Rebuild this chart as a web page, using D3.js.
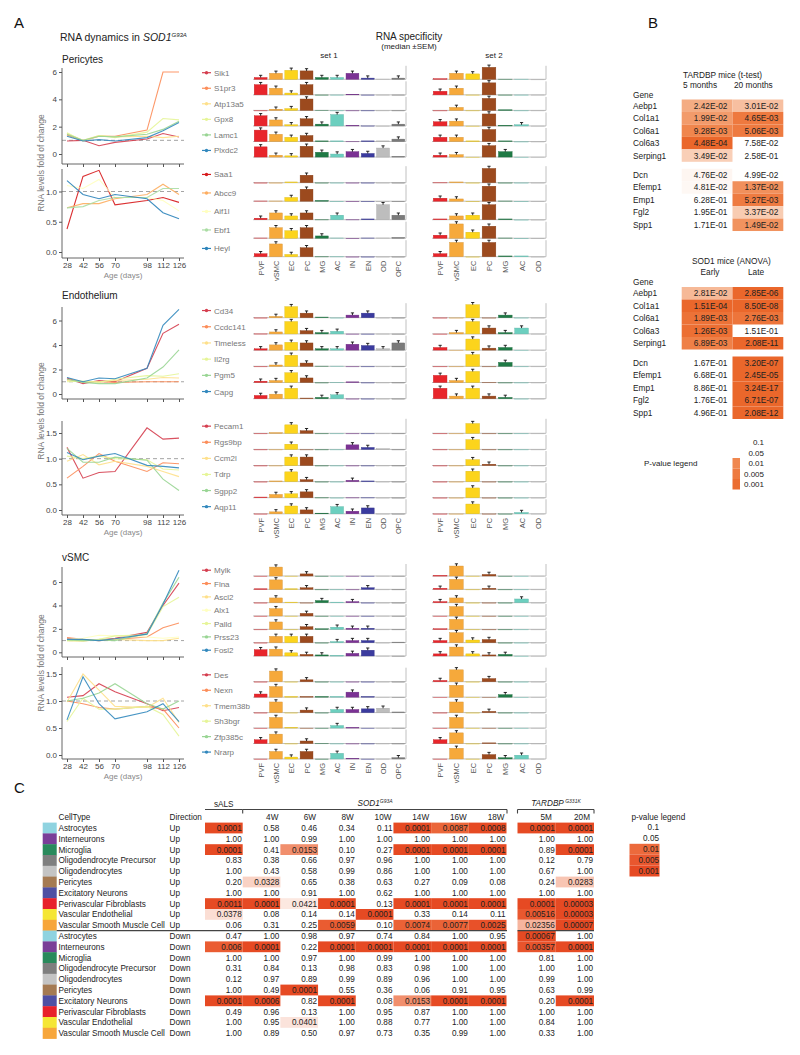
<!DOCTYPE html>
<html><head><meta charset="utf-8">
<script src="https://cdn.jsdelivr.net/npm/d3@7"></script>
<style>body{margin:0;background:#fff} svg{display:block;font-family:"Liberation Sans", Arial, Helvetica, sans-serif}</style>
</head><body>
<svg id="c" width="800" height="1055"></svg>
<script>
// ---------------- DATA ----------------
const days = [28, 42, 56, 70, 98, 112, 126];
const set1Types = ["PVF","vSMC","EC","PC","MG","AC","IN","EN","OD","OPC"];
const set2Types = ["PVF","vSMC","EC","PC","MG","AC","OD"];
const typeColors = ["#e8252b","#f6a93b","#fcd41c","#9c4a1e","#1f7a45","#6ccfbf","#7b3294","#3b3b9e","#bdbdbd","#7a7a7a"];

// Pericytes
const periUpGenes = ["Sik1","S1pr3","Atp13a5","Gpx8","Lamc1","Plxdc2"];
const periUpFold = [
  [0.95,1.0,0.6,0.85,1.1,1.5,1.25],
  [1.4,0.95,1.3,1.3,1.75,6.0,6.0],
  [1.5,1.0,1.35,1.25,1.3,1.2,1.3],
  [1.55,0.95,1.35,1.2,1.6,2.6,2.5],
  [1.45,1.0,1.3,1.25,1.45,1.8,2.4],
  [1.3,0.95,1.05,0.95,1.2,1.7,2.3]];
const periUpSet1 = [
  [0.15,0.5,0.75,0.7,0.15,0.15,0.5,0.1,0.02,0.1],
  [0.85,0.55,0.15,0.85,0,0,0.05,0,0,0],
  [0,0.1,0.15,0.95,0.02,0,0,0,0,0],
  [0.85,0.5,0.1,0.6,0.15,0.95,0.05,0.02,0,0.15],
  [0.95,0.6,0.35,0.5,0.05,0.05,0.02,0.05,0.05,0.2],
  [0.85,0.15,0.1,0.9,0.4,0.25,0.45,0.3,0.75,0.05]];
const periUpSet2 = [
  [0.05,0.5,0.45,1.0,0.02,0.02,0],
  [0.3,0.55,0,1.0,0,0,0],
  [0,0.25,0,1.0,0.05,0,0],
  [0.35,0.4,0,1.0,0.05,0.1,0],
  [0.35,0.35,0.05,1.0,0.05,0,0],
  [0.15,0.2,0,0.95,0.45,0,0]];
const periDownGenes = ["Saa1","Abcc9","Aif1l","Ebf1","Heyl"];
const periDownFold = [
  [0.38,1.25,1.35,0.78,0.85,0.9,0.82],
  [0.73,0.8,0.8,0.88,0.95,1.12,0.95],
  [1.1,1.05,1.2,0.9,0.9,0.85,0.68],
  [0.73,0.75,0.85,0.9,0.9,1.05,1.05],
  [1.18,0.95,0.88,0.95,0.88,0.65,0.55]];
const periDownSet1 = [
  [0,0,0.05,0.5,0,0,0,0,0,0],
  [0.02,0.02,0.25,0.8,0.05,0,0,0,0,0],
  [0.1,0.45,0.25,0.45,0.02,0.3,0.02,0.05,1.0,0.3],
  [0.02,0.7,0.5,0.7,0.15,0.02,0,0.02,0.02,0.05],
  [0.2,0.85,0.15,0.6,0.02,0.02,0,0,0,0]];
const periDownSet2 = [
  [0.02,0.05,0,0.95,0,0,0],
  [0.2,0.15,0,1.0,0.02,0,0],
  [0.05,0.25,0.3,1.0,0.05,0,0],
  [0.2,0.95,0.4,0.8,0.02,0,0],
  [0.2,0.95,0,0.95,0.05,0.05,0]];

// Endothelium
const endoUpGenes = ["Cd34","Ccdc141","Timeless","Il2rg","Pgm5","Capg"];
const endoUpFold = [
  [1.3,0.85,1.1,1.0,2.1,4.95,5.7],
  [1.2,1.0,1.0,0.95,1.0,1.0,1.0],
  [1.1,1.0,1.0,1.1,1.2,1.35,1.3],
  [1.0,1.05,0.95,1.2,1.5,1.45,1.65],
  [1.2,0.95,0.85,0.85,1.3,2.2,3.6],
  [1.35,1.0,1.3,1.25,2.1,5.6,6.9]];
const endoUpSet1 = [
  [0,0.1,0.85,0.35,0.05,0,0.2,0.35,0,0],
  [0.02,0.15,0.95,0.25,0.1,0.2,0,0,0,0],
  [0.1,0.4,0.6,0.55,0.1,0.1,0.45,0.35,0.1,0.55],
  [0,0.1,0.85,0.25,0.02,0.02,0,0,0,0],
  [0.1,0.15,0.75,0.35,0,0.02,0.05,0,0,0],
  [0.25,0.35,0.8,0.05,0.1,0.3,0,0,0,0]];
const endoUpSet2 = [
  [0,0,1.0,0,0.2,0,0],
  [0,0.1,0.95,0.45,0.1,0.45,0],
  [0.2,0,0.85,0.15,0.2,0,0],
  [0,0,0.9,0,0.3,0,0],
  [0.55,0.15,0.85,0.02,0,0,0],
  [0.8,0.2,0.8,0.2,0.1,0,0]];
const endoDownGenes = ["Pecam1","Rgs9bp","Ccm2l","Tdrp","Sgpp2","Aqp11"];
const endoDownFold = [
  [1.22,0.62,0.73,0.75,1.6,1.38,1.4],
  [0.62,0.85,1.1,0.95,0.75,0.92,0.9],
  [0.95,1.08,0.88,0.95,0.85,0.75,0.65],
  [1.05,1.0,1.05,1.0,0.98,0.8,0.78],
  [1.2,0.93,0.93,1.03,0.97,0.6,0.38],
  [1.12,0.98,1.05,1.1,0.87,0.85,0.82]];
const endoDownSet1 = [
  [0,0.05,0.65,0.2,0,0,0,0,0,0],
  [0,0,0.4,0,0,0,0.35,0.15,0.05,0],
  [0,0,0.65,0.65,0,0,0,0,0,0],
  [0,0.05,0.75,0.15,0,0,0.1,0.05,0,0],
  [0.05,0.25,0.3,0.45,0.02,0,0.02,0.02,0,0],
  [0,0.15,0.6,0.3,0.05,0.55,0.2,0.45,0,0]];
const endoDownSet2 = [
  [0,0,0.75,0,0,0,0],
  [0,0,0.75,0,0,0,0],
  [0,0,0.45,0.1,0,0,0],
  [0,0,0.8,0,0,0,0],
  [0,0,0.75,0,0,0,0],
  [0,0,0.75,0,0,0.1,0]];

// vSMC
const vsmcUpGenes = ["Mylk","Flna","Ascl2","Alx1","Palld","Prss23","Fosl2"];
const vsmcUpFold = [
  [1.2,1.1,1.05,1.2,1.7,4.0,5.9],
  [1.25,1.1,1.0,1.1,1.3,2.1,2.5],
  [1.0,0.95,1.1,1.1,1.0,1.0,1.2],
  [1.1,1.2,1.45,1.4,1.3,1.2,1.3],
  [1.0,1.0,1.1,1.4,1.5,3.9,4.7],
  [1.05,1.0,1.05,1.0,1.6,4.2,6.4],
  [1.1,1.1,1.0,1.15,1.55,4.1,7.0]];
const vsmcUpSet1 = [
  [0,0.85,0,0.2,0,0,0,0,0,0],
  [0.05,0.9,0.05,0.15,0,0,0,0.15,0,0],
  [0,0.45,0.05,0,0.2,0.05,0.1,0,0,0],
  [0,0.7,0,0.25,0,0,0,0,0,0],
  [0,0.7,0,0.25,0.05,0.2,0.1,0.1,0,0],
  [0,0.6,0.6,0.6,0,0.1,0.2,0.2,0,0.05],
  [0.6,0.65,0.3,0.15,0.1,0.05,0.25,0.55,0,0]];
const vsmcUpSet2 = [
  [0.05,0.95,0,0.15,0,0,0],
  [0.1,0.95,0,0.1,0,0,0],
  [0.1,0.45,0,0,0,0.35,0],
  [0,0.9,0,0,0,0,0],
  [0.05,0.95,0,0,0,0,0],
  [0.2,0.95,0.25,0.3,0,0,0],
  [0.2,0.85,0.2,0.1,0.15,0,0]];
const vsmcDownGenes = ["Des","Nexn","Tmem38b","Sh3bgr","Zfp385c","Nrarp"];
const vsmcDownFold = [
  [1.07,1.1,1.32,1.17,0.95,0.82,0.88],
  [1.0,0.95,0.88,0.85,0.9,0.85,0.5],
  [0.98,1.5,1.2,0.9,0.88,1.05,0.6],
  [0.62,1.05,0.85,0.85,0.9,0.75,0.35],
  [1.0,1.05,1.15,1.32,0.95,0.85,1.0],
  [0.65,1.45,0.95,0.67,0.8,0.95,0.62]];
const vsmcDownSet1 = [
  [0,0.85,0,0.15,0,0,0,0,0,0],
  [0.25,0.85,0.05,0.05,0.05,0.05,0.4,0.05,0,0],
  [0,0.85,0,0.2,0,0.25,0.25,0.3,0.35,0.05],
  [0,0.85,0.05,0,0,0.2,0.05,0,0,0],
  [0.3,0.75,0,0.2,0.02,0,0,0,0,0],
  [0,0.6,0.15,0.6,0,0.45,0.05,0,0,0.1]];
const vsmcDownSet2 = [
  [0.1,0.95,0,0.25,0,0,0],
  [0,0.95,0,0,0.2,0,0],
  [0,0.85,0,0.1,0,0,0],
  [0,0.85,0,0,0,0,0],
  [0.3,0.85,0,0.05,0,0,0],
  [0,0.85,0,0.35,0.1,0.3,0]];

// Panel B
const tardbpGenes = ["Aebp1","Col1a1","Col6a1","Col6a3","Serping1","Dcn","Efemp1","Emp1","Fgl2","Spp1"];
const tardbp5m  = ["2.42E-02","1.99E-02","9.28E-03","4.48E-04","3.49E-02","4.76E-02","4.81E-02","6.28E-01","1.95E-01","1.71E-01"];
const tardbp20m = ["3.01E-02","4.65E-03","5.06E-03","7.58E-02","2.58E-01","4.99E-02","1.37E-02","5.27E-03","3.37E-02","1.49E-02"];
const sod1Genes = ["Aebp1","Col1a1","Col6a1","Col6a3","Serping1","Dcn","Efemp1","Emp1","Fgl2","Spp1"];
const sod1Early = ["2.81E-02","1.51E-04","1.89E-03","1.26E-03","6.89E-03","1.67E-01","6.68E-01","8.86E-01","1.76E-01","4.96E-01"];
const sod1Late  = ["2.85E-06","8.50E-08","2.76E-03","1.51E-01","2.08E-11","3.20E-07","2.45E-05","3.24E-17","6.71E-07","2.08E-12"];
const legendB = ["0.1","0.05","0.01","0.005","0.001"];

// Panel C
const cellTypes = ["Astrocytes","Interneurons","Microglia","Oligodendrocyte Precursor","Oligodendrocytes","Pericytes","Excitatory Neurons","Perivascular Fibroblasts","Vascular Endothelial","Vascular Smooth Muscle Cell"];
const cellTypeColors = ["#8fd3e0","#7a3e98","#2a8a5c","#7f7f7f","#c4c4c4","#a57a52","#4f4fa3","#e8202a","#f5e634","#f7a63a"];
const directions = ["Up","Down"];
const sodCols = ["sALS","4W","6W","8W","10W","14W","16W","18W"];
const tarCols = ["5M","20M"];
const pUp = [
  ["0.0001","0.58","0.46","0.34","0.11","0.0001","0.0087","0.0008","0.0001","0.0001"],
  ["1.00","1.00","0.99","1.00","1.00","1.00","1.00","1.00","1.00","1.00"],
  ["0.0001","0.41","0.0153","0.10","0.27","0.0001","0.0001","0.0001","0.89","0.0001"],
  ["0.83","0.38","0.66","0.97","0.96","1.00","1.00","1.00","0.12","0.79"],
  ["1.00","0.43","0.58","0.99","0.86","1.00","1.00","1.00","0.67","1.00"],
  ["0.20","0.0328","0.65","0.38","0.63","0.27","0.09","0.08","0.24","0.0283"],
  ["1.00","1.00","0.91","1.00","0.62","1.00","1.00","1.00","1.00","1.00"],
  ["0.0011","0.0001","0.0421","0.0001","0.13","0.0001","0.0001","0.0001","0.0001","0.00003"],
  ["0.0378","0.08","0.14","0.14","0.0001","0.33","0.14","0.11","0.00516","0.00003"],
  ["0.06","0.31","0.25","0.0059","0.10","0.0074","0.0077","0.0025","0.02356","0.00007"]];
const pDown = [
  ["0.47","1.00","0.98","0.97","0.74","0.84","1.00","0.95","0.00067","1.00"],
  ["0.006","0.0001","0.22","0.0001","0.0001","0.0001","0.0001","0.0001","0.00357","0.0001"],
  ["1.00","1.00","0.97","1.00","0.99","1.00","1.00","1.00","0.81","1.00"],
  ["0.31","0.84","0.13","0.98","0.83","0.98","1.00","1.00","1.00","1.00"],
  ["0.12","0.97","0.89","0.99","0.89","0.96","1.00","1.00","0.99","1.00"],
  ["1.00","0.49","0.0001","0.55","0.36","0.06","0.91","0.95","0.63","0.99"],
  ["0.0001","0.0006","0.82","0.0001","0.08","0.0153","0.0001","0.0001","0.20","0.0001"],
  ["0.49","0.96","0.13","1.00","0.95","0.87","1.00","1.00","1.00","1.00"],
  ["1.00","0.95","0.0401","1.00","0.88","0.77","1.00","1.00","0.84","1.00"],
  ["1.00","0.89","0.50","0.97","0.73","0.35","0.99","1.00","0.33","1.00"]];
const legendC = ["0.1","0.05","0.01","0.005","0.001"];

// ---------------- DRAW ----------------
const svg = d3.select("#c");
function txt(g, x, y, s, o = {}) {
  return g.append("text").attr("x", x).attr("y", y).text(s)
    .attr("font-size", o.size || 8).attr("fill", o.fill || "#222")
    .attr("text-anchor", o.anchor || "start")
    .attr("font-style", o.style || null).attr("font-weight", o.weight || null);
}

// Panel letters
txt(svg, 14, 28, "A", {size: 15, fill: "#111"});
txt(svg, 648, 28, "B", {size: 15, fill: "#111"});
txt(svg, 14, 793, "C", {size: 15, fill: "#111"});

// Panel A titles
const tA = txt(svg, 60, 41, "RNA dynamics in ", {size: 10.5});
tA.append("tspan").attr("font-style", "italic").text("SOD1");
tA.append("tspan").attr("font-style", "italic").attr("font-size", 6).attr("dy", -4).text("G93A");
txt(svg, 409, 40, "RNA specificity", {size: 10, anchor: "middle"});
txt(svg, 409, 49, "(median ±SEM)", {size: 8, anchor: "middle"});
txt(svg, 329, 58, "set 1", {size: 8, anchor: "middle"});
txt(svg, 494, 58, "set 2", {size: 8, anchor: "middle"});

const sections = [
  {title: "Pericytes", up: {genes: periUpGenes, fold: periUpFold, s1: periUpSet1, s2: periUpSet2},
   down: {genes: periDownGenes, fold: periDownFold, s1: periDownSet1, s2: periDownSet2}},
  {title: "Endothelium", up: {genes: endoUpGenes, fold: endoUpFold, s1: endoUpSet1, s2: endoUpSet2},
   down: {genes: endoDownGenes, fold: endoDownFold, s1: endoDownSet1, s2: endoDownSet2}},
  {title: "vSMC", up: {genes: vsmcUpGenes, fold: vsmcUpFold, s1: vsmcUpSet1, s2: vsmcUpSet2},
   down: {genes: vsmcDownGenes, fold: vsmcDownFold, s1: vsmcDownSet1, s2: vsmcDownSet2}}
];
const layout = [
  {titleY: 63,
   up: {top: 68, bottom: 164, p0: 154, v1: 6, p1: 72, ticks: [0, 2, 4, 6], fmt: "d"},
   down: {top: 169, bottom: 258, p0: 252, v1: 1, p1: 191.5, ticks: [0, 0.5, 1], fmt: ".1f"},
   barsUp: {b0: 79.3, step: 15.55, h: 12}, barsDown: {b0: 182.7, step: 18.5, h: 15}},
  {titleY: 299,
   up: {top: 307, bottom: 399, p0: 394, v1: 6, p1: 320.5, ticks: [0, 2, 4, 6], fmt: "d"},
   down: {top: 421, bottom: 515, p0: 510, v1: 1.5, p1: 433, ticks: [0, 0.5, 1, 1.5], fmt: ".1f"},
   barsUp: {b0: 317.7, step: 16.2, h: 13}, barsDown: {b0: 433.3, step: 16.1, h: 13}},
  {titleY: 561,
   up: {top: 567, bottom: 657, p0: 652.3, v1: 6, p1: 582, ticks: [0, 2, 4, 6], fmt: "d"},
   down: {top: 667, bottom: 759, p0: 755, v1: 1.5, p1: 674, ticks: [0, 0.5, 1, 1.5], fmt: ".1f"},
   barsUp: {b0: 576, step: 13.33, h: 10.5}, barsDown: {b0: 681.7, step: 15.45, h: 12.5}}
];

const xDays = d3.scaleLinear().domain([28, 126]).range([67, 179]);
const frameL = 62, frameR = 184;
const x1 = d3.scaleBand().domain(set1Types).range([253, 406]).paddingInner(0.16).paddingOuter(0.08);
const x2 = d3.scaleBand().domain(set2Types).range([432, 546]).paddingInner(0.16).paddingOuter(0.08);
const typeColor = d3.scaleOrdinal().domain(set1Types).range(typeColors);
let clipId = 0;

function lineChart(L, data, showX) {
  const g = svg.append("g");
  const y = d3.scaleLinear().domain([0, L.v1]).range([L.p0, L.p1]);
  const colors = d3.schemeSpectral[data.genes.length];
  const id = "clip" + (clipId++);
  svg.append("clipPath").attr("id", id).append("rect")
    .attr("x", frameL).attr("y", L.top - 2).attr("width", frameR - frameL).attr("height", L.bottom - L.top + 2);
  g.append("line").attr("x1", frameL).attr("x2", frameR).attr("y1", y(1)).attr("y2", y(1))
    .attr("stroke", "#9a9a9a").attr("stroke-width", 0.9).attr("stroke-dasharray", "4,3");
  const line = d3.line().x((d, i) => xDays(days[i])).y(d => y(d));
  g.append("g").attr("clip-path", `url(#${id})`).selectAll("path").data(data.fold).join("path")
    .attr("d", line).attr("fill", "none").attr("stroke", (d, i) => colors[i])
    .attr("stroke-width", 1.1).attr("opacity", 0.9);
  const ya = g.append("g").attr("transform", `translate(${frameL},0)`)
    .call(d3.axisLeft(y).tickValues(L.ticks).tickSize(3).tickPadding(2).tickSizeOuter(0).tickFormat(d3.format(L.fmt)));
  ya.select(".domain").remove();
  const xa = g.append("g").attr("transform", `translate(0,${L.bottom})`)
    .call(d3.axisBottom(xDays).tickValues(days).tickSize(3).tickPadding(1.5).tickSizeOuter(0).tickFormat(showX ? d3.format("d") : ""));
  xa.select(".domain").remove();
  [ya, xa].forEach(a => {
    a.selectAll("text").attr("font-size", 8).attr("fill", "#444").attr("font-family", null);
    a.selectAll(".tick line").attr("stroke", "#555");
  });
  g.append("line").attr("x1", frameL).attr("x2", frameL).attr("y1", L.top).attr("y2", L.bottom).attr("stroke", "#555").attr("stroke-width", 0.9);
  g.append("line").attr("x1", frameL).attr("x2", frameR).attr("y1", L.bottom).attr("y2", L.bottom).attr("stroke", "#555").attr("stroke-width", 0.9);
  if (showX) {
    txt(g, (frameL + frameR) / 2, L.bottom + 20, "Age (days)", {size: 8, fill: "#888", anchor: "middle"});
  }
}

function barSet(g, xs, types, vals, base, hy) {
  const gg = g.append("g");
  gg.append("line").attr("x1", xs.range()[0]).attr("x2", xs.range()[1]).attr("y1", base).attr("y2", base)
    .attr("stroke", "#b0b0b0").attr("stroke-width", 0.8);
  gg.append("line").attr("x1", xs.range()[1]).attr("x2", xs.range()[1]).attr("y1", hy(1) - 1.5).attr("y2", base)
    .attr("stroke", "#b0b0b0").attr("stroke-width", 0.8);
  const items = types.map((t, i) => ({t, v: vals[i]}));
  gg.selectAll("rect").data(items).join("rect")
    .attr("x", d => xs(d.t)).attr("width", xs.bandwidth())
    .attr("y", d => hy(d.v)).attr("height", d => Math.max(0.6, base - hy(d.v)))
    .attr("fill", d => typeColor(d.t)).attr("stroke", d => d3.color(typeColor(d.t)).darker(0.4)).attr("stroke-width", 0.4)
    .attr("opacity", d => d.v < 0.03 ? 0.55 : 1);
  const caps = items.filter(d => d.v >= 0.08);
  gg.selectAll("path.cap").data(caps).join("path").attr("class", "cap")
    .attr("d", d => {
      const cx = xs(d.t) + xs.bandwidth() / 2, top = hy(d.v), cy = top - 2.2;
      return `M${cx},${top}V${cy}M${cx - 1.6},${cy}H${cx + 1.6}`;
    })
    .attr("stroke", "#111").attr("stroke-width", 0.9).attr("fill", "none");
}

function barGroup(B, data) {
  const g = svg.append("g");
  const colors = d3.schemeSpectral[data.genes.length];
  data.genes.forEach((gene, i) => {
    const base = B.b0 + i * B.step;
    const hy = d3.scaleLinear().domain([0, 1]).range([base, base - B.h]);
    const ly = base - B.h * 0.55;
    g.append("line").attr("x1", 202).attr("x2", 211).attr("y1", ly).attr("y2", ly).attr("stroke", colors[i]).attr("stroke-width", 1.2);
    g.append("circle").attr("cx", 206.5).attr("cy", ly).attr("r", 1.7).attr("fill", colors[i]);
    txt(g, 214, ly + 3, gene, {size: 8, fill: "#777"});
    barSet(g, x1, set1Types, data.s1[i], base, hy);
    barSet(g, x2, set2Types, data.s2[i], base, hy);
  });
  return B.b0 + (data.genes.length - 1) * B.step;
}

function typeLabels(xs, types, y) {
  const g = svg.append("g");
  g.selectAll("text").data(types).join("text")
    .attr("transform", d => `translate(${xs(d) + xs.bandwidth() / 2 + 3},${y}) rotate(-90)`)
    .attr("text-anchor", "end").attr("font-size", 7.5).attr("fill", "#555").text(d => d);
}

sections.forEach((s, k) => {
  const L = layout[k];
  txt(svg, 62, L.titleY, s.title, {size: 10});
  lineChart(L.up, s.up, false);
  lineChart(L.down, s.down, true);
  svg.append("text").attr("transform", `translate(44,${(L.up.top + L.down.bottom) / 2}) rotate(-90)`)
    .attr("text-anchor", "middle").attr("font-size", 8.5).attr("fill", "#777").text("RNA levels fold of change");
  barGroup(L.barsUp, s.up);
  const last = barGroup(L.barsDown, s.down);
  typeLabels(x1, set1Types, last + 4);
  typeLabels(x2, set2Types, last + 4);
});

// ---------------- PANEL B ----------------
const colorB = d3.scaleLog().domain([0.0005, 0.005, 0.01, 0.02, 0.03, 0.045, 0.05])
  .range(["#ea672b", "#ee7a40", "#f0874f", "#f29b6b", "#f7bf9f", "#fcebe0", "#ffffff"]).clamp(true);
const bFill = s => { const p = +s; return p < 0.05 ? colorB(p) : "none"; };

function tableB(genes, c1, c2, blockRanges, colX) {
  const g = svg.append("g");
  const r1 = d3.scaleBand().domain(d3.range(5)).range(blockRanges[0]);
  const r2 = d3.scaleBand().domain(d3.range(5, 10)).range(blockRanges[1]);
  const rowY = i => i < 5 ? r1(i) : r2(i);
  const h = r1.bandwidth();
  const cols = d3.scaleBand().domain([0, 1]).range(colX);
  genes.forEach((gene, i) => {
    txt(g, 633, rowY(i) + h / 2 + 3, gene, {size: 8.3});
    [c1, c2].forEach((col, j) => {
      g.append("rect").attr("x", cols(j)).attr("y", rowY(i)).attr("width", cols.bandwidth()).attr("height", h)
        .attr("fill", bFill(col[i]));
      txt(g, cols(j) + cols.bandwidth() - 5, rowY(i) + h / 2 + 3, col[i], {size: 8.3, anchor: "end"});
    });
  });
}
txt(svg, 683, 78, "TARDBP mice (t-test)", {size: 8.3});
txt(svg, 683, 88, "5 months", {size: 8.3});
txt(svg, 734, 88, "20 months", {size: 8.3});
txt(svg, 633, 98, "Gene", {size: 8.3});
tableB(tardbpGenes, tardbp5m, tardbp20m, [[99.5, 161.8], [168.8, 231]], [681.7, 783.3]);

txt(svg, 692, 264, "SOD1 mice (ANOVA)", {size: 8.3});
txt(svg, 710, 274.5, "Early", {size: 8.3, anchor: "middle"});
txt(svg, 756, 274.5, "Late", {size: 8.3, anchor: "middle"});
txt(svg, 633, 285, "Gene", {size: 8.3});
tableB(sod1Genes, sod1Early, sod1Late, [[287, 349.5], [356.5, 419]], [681.7, 783.3]);

const lyB = d3.scaleBand().domain(legendB).range([437, 489.5]);
legendB.forEach(v => {
  if (+v < 0.05) svg.append("rect").attr("x", 732.5).attr("y", lyB(v)).attr("width", 7.5).attr("height", lyB.bandwidth())
    .attr("fill", colorB(+v));
  txt(svg, 764, lyB(v) + lyB.bandwidth() / 2 + 3, v, {size: 8, anchor: "end"});
});
txt(svg, 644, 466, "P-value legend", {size: 8});

// ---------------- PANEL C ----------------
const colorC = d3.scaleLog().domain([0.001, 0.005, 0.01, 0.055])
  .range(["#e64a23", "#e9572e", "#ec6a3c", "#ffffff"]).clamp(true);
const cFill = s => { const p = +s; return p < 0.05 ? colorC(p) : "none"; };
const rowsC = [];
directions.forEach(dir => cellTypes.forEach((ct, i) => rowsC.push({ct, dir, color: cellTypeColors[i],
  vals: (dir === "Up" ? pUp : pDown)[i]})));
const ry = d3.scaleBand().domain(d3.range(rowsC.length)).range([822.6, 1038.6]);
const cs = d3.scaleBand().domain(sodCols).range([205, 506.5]);
const ct2 = d3.scaleBand().domain(tarCols).range([517.5, 594]);
const gC = svg.append("g");
rowsC.forEach((r, i) => {
  const y0 = ry(i), h = ry.bandwidth(), yb = y0 + h / 2 + 3;
  gC.append("rect").attr("x", 42.7).attr("y", y0).attr("width", 14).attr("height", h + 0.3).attr("fill", r.color);
  txt(gC, 58.5, yb, r.ct, {size: 8.2});
  txt(gC, 169.5, yb, r.dir, {size: 8.2});
  r.vals.forEach((v, j) => {
    const isS = j < sodCols.length;
    const sc = isS ? cs : ct2, key = isS ? sodCols[j] : tarCols[j - sodCols.length];
    const x0 = sc(key), w = sc.bandwidth();
    gC.append("rect").attr("x", x0).attr("y", y0).attr("width", w).attr("height", h).attr("fill", cFill(v));
    txt(gC, x0 + w - 1, yb, v, {size: 8.2, anchor: "end"});
  });
});
txt(gC, 58.5, 820, "CellType", {size: 8.2});
txt(gC, 169.5, 820, "Direction", {size: 8.2});
sodCols.slice(1).forEach(c => txt(gC, cs(c) + cs.bandwidth() - 2, 820, c, {size: 8.2, anchor: "end"}));
tarCols.forEach(c => txt(gC, ct2(c) + ct2.bandwidth() - 4, 820, c, {size: 8.2, anchor: "end"}));
txt(gC, 214, 807, "sALS", {size: 8.2});
const tS = txt(gC, 375, 806, "SOD1", {size: 8.2, anchor: "middle", style: "italic"});
tS.append("tspan").attr("font-size", 5).attr("dy", -3).text("G93A");
const tT = txt(gC, 556, 806, "TARDBP", {size: 8.2, anchor: "middle", style: "italic"});
tT.append("tspan").attr("font-size", 5).attr("dy", -3).text(" G331K");
const brk = (xa, xb, ticks) => {
  gC.append("line").attr("x1", xa).attr("x2", xb).attr("y1", 809.5).attr("y2", 809.5).attr("stroke", "#444").attr("stroke-width", 1.1);
  ticks.forEach(x => gC.append("line").attr("x1", x).attr("x2", x).attr("y1", 809.5).attr("y2", 813.5).attr("stroke", "#444").attr("stroke-width", 1.1));
};
brk(cs("sALS"), cs("4W"), [cs("4W")]);
brk(cs("4W"), 507, [507]);
brk(517.5, 594, [517.5, 594]);
const sepY = ry(cellTypes.length);
gC.append("line").attr("x1", 56.7).attr("x2", 507).attr("y1", sepY).attr("y2", sepY).attr("stroke", "#444").attr("stroke-width", 1.1);
gC.append("line").attr("x1", 517.5).attr("x2", 594).attr("y1", sepY).attr("y2", sepY).attr("stroke", "#444").attr("stroke-width", 1.1);
txt(gC, 631.5, 819.5, "p-value legend", {size: 8.2});
const lyC = d3.scaleBand().domain(legendC).range([822, 876.5]);
legendC.forEach(v => {
  if (+v < 0.05) gC.append("rect").attr("x", 629.5).attr("y", lyC(v)).attr("width", 30).attr("height", lyC.bandwidth()).attr("fill", colorC(+v));
  txt(gC, 659, lyC(v) + lyC.bandwidth() / 2 + 3, v, {size: 8.2, anchor: "end"});
});
</script>
</body></html>
